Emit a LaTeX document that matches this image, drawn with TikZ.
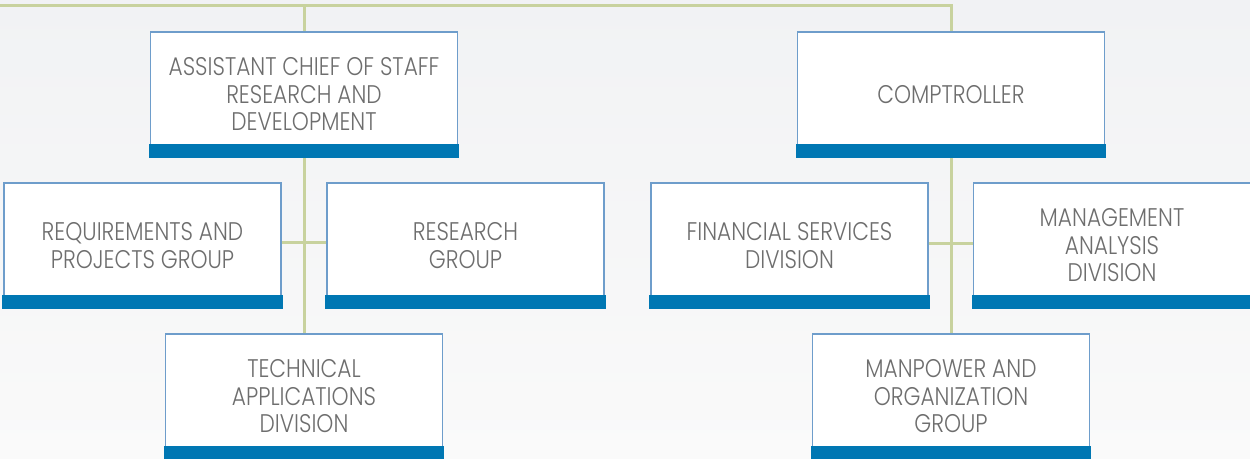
\documentclass[tikz,border=0pt]{standalone}
\usepackage{fontspec}
\setmainfont{Poppins Light}[FakeStretch=0.85]
\definecolor{linegreen}{HTML}{C8D29E}
\definecolor{boxblue}{HTML}{6E9DCB}
\definecolor{barblue}{HTML}{0077B3}
\definecolor{txtgray}{HTML}{6E6E6E}
\definecolor{bgtop}{HTML}{F1F2F4}
\definecolor{bgbot}{HTML}{FAFAFA}
\pgfdeclarelayer{back}
\pgfdeclarelayer{mid}
\pgfsetlayers{back,mid,main}
\tikzset{
  orgbox/.style={draw=boxblue, line width=1.6pt, fill=white, minimum height=125pt,
    align=center, text=txtgray, font=\fontsize{25.5}{27.5}\selectfont, inner sep=0pt},
  wide/.style={minimum width=307pt},
  narrow/.style={minimum width=277pt},
  conn/.style={draw=linegreen, line width=3pt},
  bar/.style={fill=barblue}
}
\begin{document}
\begin{tikzpicture}[x=1pt,y=-1pt]
\begin{pgfonlayer}{back}
\shade[top color=bgtop, bottom color=bgbot] (0,0) rectangle (1250,458);
\end{pgfonlayer}
\useasboundingbox (0,0) rectangle (1250,458);
% boxes
\node[orgbox,wide] (acs) at (304,94.5) {ASSISTANT CHIEF OF STAFF\\RESEARCH AND\\DEVELOPMENT};
\node[orgbox,wide] (comp) at (951,94.5) {COMPTROLLER};
\node[orgbox,narrow] (req) at (142.5,245.5) {REQUIREMENTS AND\\PROJECTS GROUP};
\node[orgbox,narrow] (res) at (465.5,245.5) {RESEARCH\\GROUP};
\node[orgbox,narrow] (fin) at (789.5,245.5) {FINANCIAL SERVICES\\DIVISION};
\node[orgbox,narrow] (mgmt) at (1112,245.5) {MANAGEMENT\\ANALYSIS\\DIVISION};
\node[orgbox,narrow] (tech) at (304,396.5) {TECHNICAL\\APPLICATIONS\\DIVISION};
\node[orgbox,narrow] (man) at (951,396.5) {MANPOWER AND\\ORGANIZATION\\GROUP};
% bars
\foreach \b in {acs,comp,req,res,fin,mgmt,tech,man}{
  \fill[bar] ([xshift=-0.8pt]\b.south west) rectangle ([xshift=0.8pt,yshift=14pt]\b.south east);
}
% connectors
\coordinate (topL) at (0,5);
\coordinate (lmid) at (304,242);
\coordinate (rmid) at (951,243);
\begin{pgfonlayer}{mid}
\draw[conn] (topL) -| (comp.north);
\draw[conn] (acs.north |- topL) -- (acs.north);
\draw[conn] (acs.south) -- (tech.north);
\draw[conn] (req.east |- lmid) -- (res.west |- lmid);
\draw[conn] (comp.south) -- (man.north);
\draw[conn] (fin.east |- rmid) -- (mgmt.west |- rmid);
\end{pgfonlayer}
\end{tikzpicture}
\end{document}
